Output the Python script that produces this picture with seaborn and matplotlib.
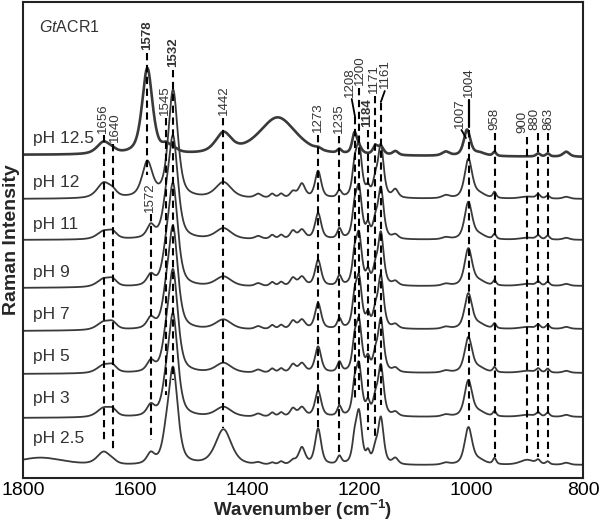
import numpy as np
import pandas as pd
import seaborn as sns
import matplotlib
matplotlib.use("Agg")
import matplotlib.pyplot as plt

# ---------------- data ----------------
ph_labels = ["pH 12.5", "pH 12", "pH 11", "pH 9", "pH 7", "pH 5", "pH 3", "pH 2.5"]

# Raman band positions (cm-1) and widths (FWHM, cm-1)
band_centers = [1770, 1656, 1640, 1578, 1572, 1545, 1532, 1442, 1380, 1355, 1339,
                1318, 1302, 1273, 1235, 1208, 1200, 1184, 1171, 1161, 1135, 1045,
                1007, 1004, 985, 958, 900, 880, 863, 830, 1345]
band_widths = [110, 28, 18, 22, 16, 16, 20, 34, 14, 10, 10,
               12, 14, 13, 9, 10, 12, 8, 10, 12, 12, 16,
               14, 16, 25, 7, 30, 9, 8, 14, 80]

# band heights for each spectrum (arbitrary intensity units)
h_125 = [0, 12, 2, 86, 0, 6, 4, 20, 0, 0, 0, 0, 0, 2, 4, 20, 6, 0, 8, 8, 4, 4, 26, 0, 3, 4, 0, 3, 3, 5, 38]
h_12 = [0, 15, 5, 35, 0, 0, 108, 16, 4, 4, 4, 6, 14, 27, 7, 25, 50, 8, 14, 52, 8, 3, 8, 32, 4, 6, 2, 4, 3, 2, 0]
h_11 = [0, 8, 6, 0, 12, 18, 100, 11, 3, 4, 4, 8, 9, 26, 10, 25, 48, 12, 14, 50, 4, 2, 8, 30, 4, 5, 2, 4, 4, 2, 0]
h_9 = [0, 8, 6, 0, 10, 18, 100, 10, 3, 4, 4, 8, 9, 26, 10, 25, 48, 12, 14, 52, 4, 2, 8, 30, 4, 5, 2, 4, 4, 2, 0]
h_7 = [0, 8, 6, 0, 10, 18, 100, 10, 3, 4, 4, 8, 9, 26, 10, 25, 48, 12, 14, 52, 4, 2, 8, 28, 4, 5, 2, 4, 4, 2, 0]
h_5 = [0, 8, 6, 0, 10, 18, 100, 10, 3, 4, 4, 8, 9, 26, 10, 25, 48, 12, 14, 52, 4, 2, 8, 28, 4, 5, 2, 4, 4, 2, 0]
h_3 = [0, 9, 6, 0, 10, 18, 100, 10, 3, 4, 4, 8, 9, 26, 10, 25, 48, 12, 14, 50, 4, 2, 8, 29, 4, 5, 2, 4, 4, 2, 0]
h_25 = [9, 13, 2, 0, 10, 15, 95, 36, 2, 2, 3, 4, 17, 36, 8, 20, 50, 10, 12, 46, 6, 2, 8, 30, 4, 6, 5, 4, 3, 2, 0]
heights = [h_125, h_12, h_11, h_9, h_7, h_5, h_3, h_25]

# vertical offsets of each trace (baseline at 1800 and at 800 cm-1)
base_left = [323, 279, 238, 190, 147, 104, 60, 11]
base_right = [321, 279, 238, 192, 149, 105, 61, 13]

# annotated band labels
ann_values = ["1656", "1640", "1578", "1545", "1532", "1572", "1442", "1273", "1235",
              "1208", "1200", "1184", "1171", "1161", "1007", "1004", "958", "900", "880", "863"]
ann_bold = ["1578", "1532", "1184"]

# ---------------- figure ----------------
sns.set_theme(style="white")
plt.rcParams["font.family"] = ["Liberation Sans", "DejaVu Sans"]
plt.rcParams["mathtext.fontset"] = "custom"
plt.rcParams["mathtext.rm"] = "Liberation Sans"
plt.rcParams["mathtext.it"] = "Liberation Sans:italic"
plt.rcParams["mathtext.bf"] = "Liberation Sans:bold"

fig = plt.figure(figsize=(6.0, 5.26), dpi=100)
ax = fig.add_axes([23 / 600, 1 - 478 / 526, 560 / 600, 476 / 526])

wn = np.linspace(1800, 800, 2001)


def band(x, c, h, w, eta=0.6):
    d = (x - c) / w
    return h * (eta / (1 + 4 * d ** 2) + (1 - eta) * np.exp(-4 * np.log(2) * d ** 2))


rows = []
for lab, hs, bl, br in zip(ph_labels, heights, base_left, base_right):
    y = bl + (br - bl) * (1800 - wn) / 1000.0
    for c, w, h in zip(band_centers, band_widths, hs):
        if h:
            y = y + band(wn, c, h, w)
    rows.append(pd.DataFrame({"wn": wn, "I": y, "pH": lab}))
df = pd.concat(rows, ignore_index=True)

for lab in ph_labels:
    sub = df[df["pH"] == lab]
    sns.lineplot(data=sub, x="wn", y="I", ax=ax, color="#3a3a3a",
                 linewidth=1.9 if lab == "pH 12.5" else 1.3, estimator=None, sort=False)

# pH labels
ph_label_y = [339, 295, 253, 206, 163, 121, 80, 40]
for lab, yy in zip(ph_labels, ph_label_y):
    ax.text(1783, yy, lab, fontsize=12.5, color="#333333", va="center", ha="left")

# dashed guide lines: (value, top_y, bottom_y) in axis units
line_specs = {
    "1656": (343, 36), "1640": (334, 26), "1578": (425, 303), "1572": (264, 38),
    "1545": (360, 83), "1532": (408, 98), "1442": (360, 50), "1273": (343, 50),
    "1235": (342, 22), "1208": (361, 78), "1200": (390, 88), "1184": (348, 48),
    "1171": (382, 38), "1161": (375, 73), "1004": (348, 58), "958": (345, 21),
    "900": (341, 21), "880": (345, 21), "863": (345, 21),
}
for k, (top, bot) in line_specs.items():
    ax.plot([float(k), float(k)], [top, bot], color="black", lw=1.5,
            linestyle=(0, (3.5, 2.2)), zorder=3)

# label positions (x in cm-1, bottom y in axis units)
label_pos = {
    "1656": (1657, 345), "1640": (1635, 336), "1578": (1578, 428), "1545": (1547, 363),
    "1532": (1532, 411), "1572": (1573, 266), "1442": (1441, 363), "1273": (1273, 346),
    "1235": (1236, 345), "1208": (1216, 381), "1200": (1198, 393), "1184": (1186, 351),
    "1171": (1174, 385), "1161": (1153, 390), "1007": (1020, 350), "1004": (1003, 381),
    "958": (958, 348), "900": (908, 345), "880": (886, 348), "863": (862, 348),
}
for k in ann_values:
    x, y = label_pos[k]
    ax.text(x, y, k, rotation=90, ha="center", va="bottom", fontsize=9.5,
            color="#333333", fontweight="bold" if k in ann_bold else "normal")

# short solid connectors
ax.plot([1213, 1207], [379, 361], color="black", lw=1.3)
ax.plot([1154, 1161], [387, 376], color="black", lw=1.3)
ax.plot([1017, 1009], [348, 340], color="black", lw=1.3)
ax.plot([1004, 1004], [378, 351], color="black", lw=1.6)

ax.text(1772, 451, r"$\it{Gt}$ACR1", fontsize=11.5, color="#333333", va="center", ha="left")

ax.set_xlim(1800, 800)
ax.set_ylim(0, 476)
ax.set_xticks([1800, 1600, 1400, 1200, 1000, 800])
ax.set_yticks([])
ax.tick_params(axis="x", direction="in", length=5, width=1.2, labelsize=14, colors="black", pad=3)
for s in ax.spines.values():
    s.set_color("#222222")
    s.set_linewidth(1.5)
ax.set_xlabel(r"Wavenumber (cm$^{\mathbf{-1}}$)", fontsize=13.5, fontweight="bold", labelpad=-1)
ax.set_ylabel("Raman Intensity", fontsize=14, fontweight="bold", labelpad=2)

fig.savefig("out.png", dpi=100)
